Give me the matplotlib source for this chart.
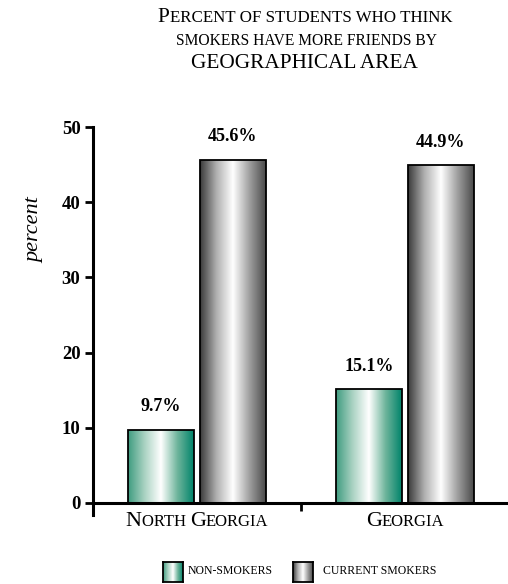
import numpy as np
import matplotlib.pyplot as plt
from matplotlib.colors import LinearSegmentedColormap
from matplotlib.offsetbox import TextArea, HPacker, AnnotationBbox
from matplotlib.transforms import blended_transform_factory

# --- datos ---
areas = ["North Georgia", "Georgia"]
non_smokers = [9.7, 15.1]
current_smokers = [45.6, 44.9]
series_names = ["non-smokers", "current smokers"]
yticks = [0, 10, 20, 30, 40, 50]
# -------------

FONT = "Liberation Serif"
green_cm = LinearSegmentedColormap.from_list(
    "verde", ["#3f9c80", "#a9d2c2", "#ffffff", "#6fb59c", "#00836a"])
gray_cm = LinearSegmentedColormap.from_list(
    "gris", ["#3a3a3a", "#b0b0b0", "#ffffff", "#a0a0a0", "#4a4a4a"])
grad = np.linspace(0, 1, 256).reshape(1, -1)


def smallcaps(fig, xy, text, big, small, coords, weight="normal"):
    # versalitas: mayusculas a tamaño grande, minusculas en mayuscula pequeña
    parts = []
    chunk, is_up = "", None
    for ch in text:
        up = ch.isupper() or ch.isdigit()
        if ch == " " or ch == "-":
            up = is_up if is_up is not None else False
        if is_up is None or up == is_up:
            chunk += ch
        else:
            parts.append((chunk, is_up))
            chunk = ch
        is_up = up
    parts.append((chunk, is_up))
    boxes = [TextArea(c.upper(), textprops=dict(
        fontsize=big if u else small, family=FONT, weight=weight))
        for c, u in parts]
    pack = HPacker(children=boxes, align="baseline", pad=0, sep=0)
    ab = AnnotationBbox(pack, xy, xycoords=coords, frameon=False,
                        box_alignment=(0.5, 0.5), pad=0)
    fig.add_artist(ab)


W, H = 508, 584
fig = plt.figure(figsize=(W / 100, H / 100), dpi=100)
ax = fig.add_axes([93 / W, 69 / H, 416 / W, 388 / H])

x = np.arange(len(areas))
bw = 0.317
off = 0.173
b1 = ax.bar(x - off, non_smokers, bw, facecolor="none",
            edgecolor="black", linewidth=1.3, zorder=3)
b2 = ax.bar(x + off, current_smokers, bw, facecolor="none",
            edgecolor="black", linewidth=1.3, zorder=3)

for bars, cm in [(b1, green_cm), (b2, gray_cm)]:
    for p in bars:
        x0, y0 = p.get_x(), p.get_y()
        ax.imshow(grad, cmap=cm, aspect="auto", zorder=2,
                  extent=[x0, x0 + p.get_width(), y0, y0 + p.get_height()])
        ax.text(x0 + p.get_width() / 2, p.get_height() + 3.1,
                f"{p.get_height():.1f}%", ha="center", va="center",
                fontsize=13, family=FONT, weight="bold")

ax.set_xlim(-0.5, 1.5)
ax.set_ylim(-1.6, 50)
ax.spines[["top", "right"]].set_visible(False)
ax.spines["left"].set_linewidth(2.2)
ax.spines["bottom"].set_linewidth(2.2)
ax.spines["bottom"].set_position(("data", 0))
ax.spines["left"].set_bounds(-1.6, 50)

ax.set_yticks(yticks)
ax.set_yticklabels([str(t) for t in yticks], family=FONT,
                   weight="bold", fontsize=13.5)
ax.tick_params(axis="y", direction="out", length=6, width=2, pad=3)
ax.set_xticks([0.5, 1.5])
ax.set_xticklabels([])
ax.tick_params(axis="x", direction="out", length=6, width=2)

fig.text(35 / W, 1 - 230 / H, "percent", family=FONT, style="italic",
         fontsize=16, rotation=90, ha="center", va="center")

trans = blended_transform_factory(ax.transData, fig.transFigure)
for xi, name in zip(x, areas):
    smallcaps(fig, (xi, 1 - 522 / H), name, 16, 12, trans)

# titulo
smallcaps(fig, (305 / W, 1 - 17 / H), "Percent of students who think",
          15.5, 12.2, "figure fraction")
smallcaps(fig, (307 / W, 1 - 41 / H), "smokers have more friends by",
          11.2, 11.2, "figure fraction")
fig.text(304 / W, 1 - 63 / H, "GEOGRAPHICAL AREA", ha="center",
         va="center", fontsize=15.3, family=FONT)

# leyenda
for (px, cm), name, tx in zip([(163, green_cm), (293, gray_cm)],
                              series_names, [188, 323]):
    sw = fig.add_axes([px / W, 1 - 582 / H, 20 / W, 20 / H])
    sw.imshow(grad, cmap=cm, aspect="auto")
    sw.set_xticks([])
    sw.set_yticks([])
    for s in sw.spines.values():
        s.set_linewidth(1.3)
    box = TextArea(name.upper(), textprops=dict(fontsize=8.5, family=FONT))
    ab = AnnotationBbox(box, (tx / W, 1 - 571 / H),
                        xycoords="figure fraction", frameon=False,
                        box_alignment=(0, 0.5), pad=0)
    fig.add_artist(ab)

plt.savefig("out.png", dpi=100)
